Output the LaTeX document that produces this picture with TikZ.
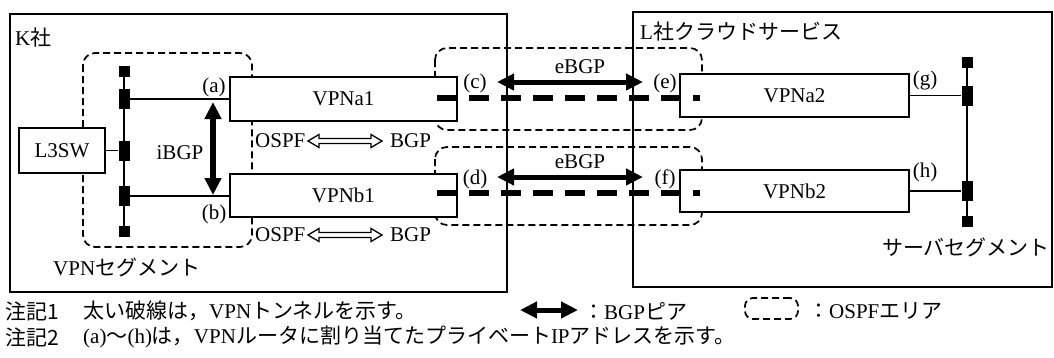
\documentclass[tikz,border=0pt]{standalone}
\usepackage{fontspec}
\setmainfont{Liberation Serif}
\newfontfamily\jp{Noto Sans CJK JP}
\usetikzlibrary{arrows.meta,calc}
\newcommand\hollowarrow[2]{\draw[hollow] let \p1=(#1), \p2=(#2) in (\x1,\y1) -- (\x1+11pt,\y1+6.5pt) -- (\x1+11pt,\y1+2.5pt) -- (\x2-11pt,\y2+2.5pt) -- (\x2-11pt,\y2+6.5pt) -- (\x2,\y2) -- (\x2-11pt,\y2-6.5pt) -- (\x2-11pt,\y2-2.5pt) -- (\x1+11pt,\y1-2.5pt) -- (\x1+11pt,\y1-6.5pt) -- cycle;}
\begin{document}
\begin{tikzpicture}[x=1pt,y=-1pt,
  every node/.style={font=\fontsize{21}{24}\selectfont, inner sep=0pt},
  frame/.style={draw, line width=1.9pt},
  router/.style={draw, line width=1.9pt, fill=white},
  ospf/.style={draw, line width=1.7pt, dash pattern=on 7pt off 4pt, rounded corners=12pt},
  tunnel/.style={line width=6pt, dash pattern=on 20pt off 12pt},
  peer/.style={line width=5pt, {Triangle[length=17pt,width=16pt]}-{Triangle[length=17pt,width=16pt]}},
  bus/.style={line width=2.6pt},
  port/.style={fill=black, minimum width=11pt, minimum height=20pt},
  endsq/.style={fill=black, minimum width=11pt, minimum height=11pt},
  link/.style={line width=1.6pt},
  hollow/.style={draw, line width=1.3pt, fill=white},
]
\useasboundingbox[fill=white] (0,0) rectangle (1054,357);

% company frames
\draw[frame] (10,14) rectangle (507,292);
\draw[frame] (633,12) rectangle (1052,287);
\node[anchor=west] (kname) at (15,38) {K{\jp 社}};
\node[anchor=west] (lname) at (640,32) {L{\jp 社クラウドサービス}};

% OSPF areas
\draw[ospf] (83,53) rectangle (252,247);
\draw[ospf] (435,48) rectangle (702,130);
\draw[ospf] (435,147) rectangle (702,225);

% routers
\node[router, minimum width=86pt, minimum height=45pt] (l3) at (62,150.5) {L3SW};
\node[router, minimum width=227pt, minimum height=44pt] (va1) at (343.5,99) {VPNa1};
\node[router, minimum width=227pt, minimum height=43pt] (vb1) at (343.5,195.5) {VPNb1};
\node[router, minimum width=229pt, minimum height=43pt] (va2) at (794.5,95.5) {VPNa2};
\node[router, minimum width=229pt, minimum height=42pt] (vb2) at (794.5,191) {VPNb2};

% VPN segment bus
\node[endsq] (lt) at (124,71) {};
\node[port] (lpa) at (124,99) {};
\node[port] (lps) at (124,150.5) {};
\node[port] (lpb) at (124,196) {};
\node[endsq] (lb) at (124,231) {};
\draw[bus] (lt.center) -- (lb.center);
\draw[link] (lpa) -- (lpa -| va1.west);
\draw[link] (lpb) -- (lpb -| vb1.west);
\draw[link] (l3.east) -- (l3.east -| lps.west);
\node[anchor=west] (vseg) at (53,267) {VPN{\jp セグメント}};

% server segment bus
\node[endsq] (rt) at (967,62) {};
\node[port] (rpa) at (967,95.5) {};
\node[port] (rpb) at (967,191) {};
\node[endsq] (rb) at (967,221) {};
\draw[bus] (rt.center) -- (rb.center);
\draw[link] (va2.east) -- (va2.east -| rpa.west);
\draw[link] (vb2.east) -- (vb2.east -| rpb.west);
\node[anchor=east] (sseg) at (1050,247) {\jp サーバセグメント};

% address labels
\node (la) at (214,87) {(a)};
\node (lbl) at (214,214) {(b)};
\node (lc) at (475,83) {(c)};
\node (ld) at (475,179) {(d)};
\node (le) at (665,83) {(e)};
\node (lf) at (665,179) {(f)};
\node (lg) at (925,80) {(g)};
\node (lh) at (925,172) {(h)};

% tunnels
\coordinate (ta1) at (437,98);
\coordinate (ta2) at (700,98);
\coordinate (tb1) at (437,193);
\coordinate (tb2) at (700,193);
\draw[tunnel] (ta1) -- (ta2);
\draw[tunnel] (tb1) -- (tb2);

% BGP peers
\coordinate (ib1) at (213,102);
\coordinate (ib2) at (213,195);
\draw[peer, line width=6pt] (ib1) -- (ib2);
\node (ibgp) at (180,153) {iBGP};
\coordinate (ea1) at (497,82);
\coordinate (ea2) at (643,82);
\coordinate (eb1) at (497,177);
\coordinate (eb2) at (643,177);
\draw[peer] (ea1) -- (ea2);
\draw[peer] (eb1) -- (eb2);
\node (ebgpa) at (580,67) {eBGP};
\node (ebgpb) at (580,162) {eBGP};

% OSPF <=> BGP redistribution
\node[anchor=west] (o1) at (255,141) {OSPF};
\node[anchor=west] (g1) at (390,141) {BGP};
\node[anchor=west] (o2) at (255,235) {OSPF};
\node[anchor=west] (g2) at (390,235) {BGP};
\coordinate (h1a) at (308,141);
\coordinate (h1b) at (382,141);
\coordinate (h2a) at (308,235);
\coordinate (h2b) at (382,235);
\hollowarrow{h1a}{h1b}
\hollowarrow{h2a}{h2b}

% notes
\node[anchor=west] (n1) at (5,311) {\jp 注記1};
\node[anchor=west] (n1t) at (83,311) {{\jp 太い破線は，}VPN{\jp トンネルを示す。}};
\node[anchor=west] (n2) at (5,337) {\jp 注記2};
\node[anchor=west] (n2t) at (83,337) {(a){\jp 〜}(h){\jp は，}VPN{\jp ルータに割り当てたプライベート}IP{\jp アドレスを示す。}};
\coordinate (lg1) at (520,310);
\coordinate (lg2) at (578,310);
\draw[peer] (lg1) -- (lg2);
\node[anchor=west] (lgt) at (583,311) {{\jp ：}BGP{\jp ピア}};
\node[ospf, rounded corners=8pt, minimum width=53pt, minimum height=21pt] (lgo) at (771.5,308.5) {};
\node[anchor=west] (lgot) at (808,311) {{\jp ：}OSPF{\jp エリア}};
\end{tikzpicture}
\end{document}
